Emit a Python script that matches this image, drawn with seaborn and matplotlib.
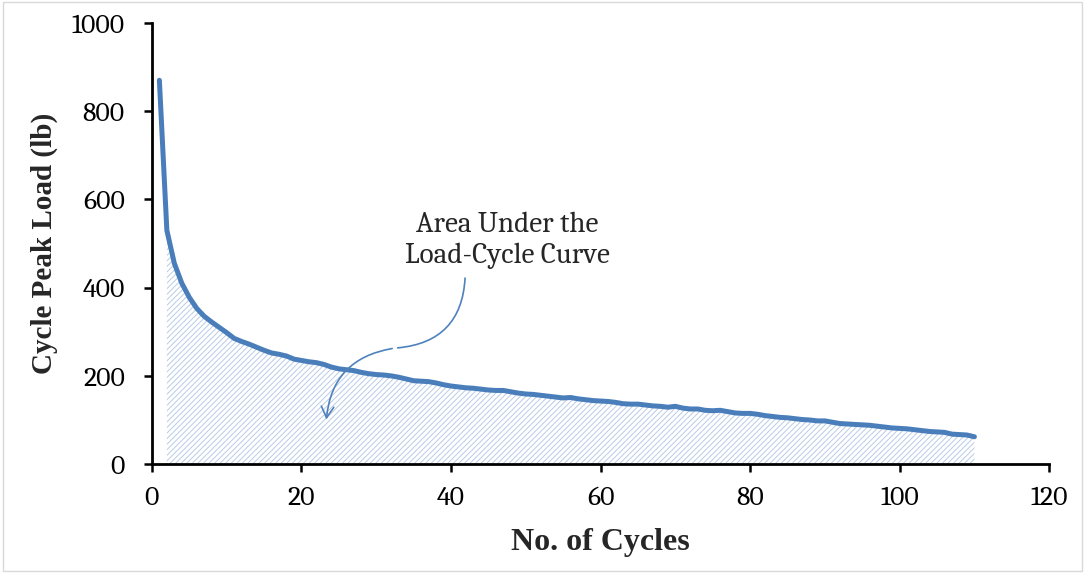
import numpy as np
import pandas as pd
import matplotlib
matplotlib.use("Agg")
import matplotlib.pyplot as plt
import seaborn as sns

# data
cycles = list(range(1, 111))
peak_load = [870, 530, 455, 410, 378, 353, 335, 322, 310, 298,
             285, 278, 272, 265, 258, 252, 249, 245, 238, 235,
             232, 230, 226, 220, 216, 214, 212, 208, 205, 203,
             202, 200, 197, 193, 189, 188, 187, 184, 180, 177,
             175, 173, 172, 170, 168, 167, 167, 164, 161, 159,
             158, 156, 154, 152, 150, 151, 148, 146, 144, 143,
             142, 140, 137, 136, 136, 134, 132, 131, 129, 131,
             127, 125, 125, 122, 121, 122, 119, 116, 115, 115,
             113, 110, 108, 106, 105, 103, 101, 100, 98, 98,
             95, 92, 91, 90, 89, 88, 86, 84, 82, 81,
             80, 78, 76, 74, 73, 72, 68, 67, 66, 62]
x_ticks = [0, 20, 40, 60, 80, 100, 120]
y_ticks = [0, 200, 400, 600, 800, 1000]

df = pd.DataFrame({"cycle": cycles, "load": peak_load})

sns.set_style("white")
plt.rcParams["font.family"] = ["Liberation Serif", "DejaVu Serif"]
plt.rcParams["hatch.linewidth"] = 0.7
plt.rcParams["hatch.color"] = "#b9cbe6"

fig = plt.figure(figsize=(10.85, 5.73), dpi=100)
ax = fig.add_axes([0.140, 0.190, 0.827, 0.770])

# hatched area under the curve (starts at cycle 2)
area = df[df["cycle"] >= 2]
ax.fill_between(area["cycle"], 0, area["load"], facecolor="none",
                hatch="//////", edgecolor="#b9cbe6", linewidth=0)

sns.lineplot(x="cycle", y="load", data=df, color="#4a7ebb", linewidth=3.6, ax=ax)

ax.set_xlim(0, 120)
ax.set_ylim(0, 1000)
ax.set_xticks(x_ticks)
ax.set_yticks(y_ticks)
ax.set_xticklabels([str(t) for t in x_ticks], fontfamily="Caladea", fontsize=20)
ax.set_yticklabels([str(t) for t in y_ticks], fontfamily="Caladea", fontsize=20)
ax.tick_params(axis="both", length=5.5, width=1.8, direction="out",
               colors="black", bottom=True, left=True)
ax.tick_params(axis="y", pad=14)
ax.tick_params(axis="x", pad=10)
for s in ["top", "right"]:
    ax.spines[s].set_visible(False)
for s in ["left", "bottom"]:
    ax.spines[s].set_linewidth(2)
    ax.spines[s].set_color("black")

ax.set_xlabel("No. of Cycles", fontsize=23, fontweight="bold", labelpad=12,
              fontfamily="Liberation Serif")
ax.set_ylabel("Cycle Peak Load (lb)", fontsize=21, fontweight="bold", labelpad=10,
              fontfamily="Liberation Serif")

# annotation text and curved arrow
ax.text(47.5, 507, "Area Under the\nLoad-Cycle Curve", ha="center", va="center",
        fontsize=21, linespacing=1.2, fontfamily="Caladea")
ax.annotate("", xy=(32.5, 263), xytext=(41.9, 428),
            arrowprops=dict(arrowstyle="-", color="#4f81bd", lw=1.2,
                            connectionstyle="arc3,rad=-0.45"))
ax.annotate("", xy=(23.3, 95), xytext=(32.5, 263),
            arrowprops=dict(arrowstyle="->,head_length=0.8,head_width=0.45",
                            color="#4f81bd", lw=1.2,
                            connectionstyle="arc3,rad=0.4"))

fig.patches.append(plt.Rectangle((0.003, 0.003), 0.994, 0.994, transform=fig.transFigure,
                                 fill=False, edgecolor="#d9d9d9", linewidth=1))

plt.savefig("out.png", dpi=100)
